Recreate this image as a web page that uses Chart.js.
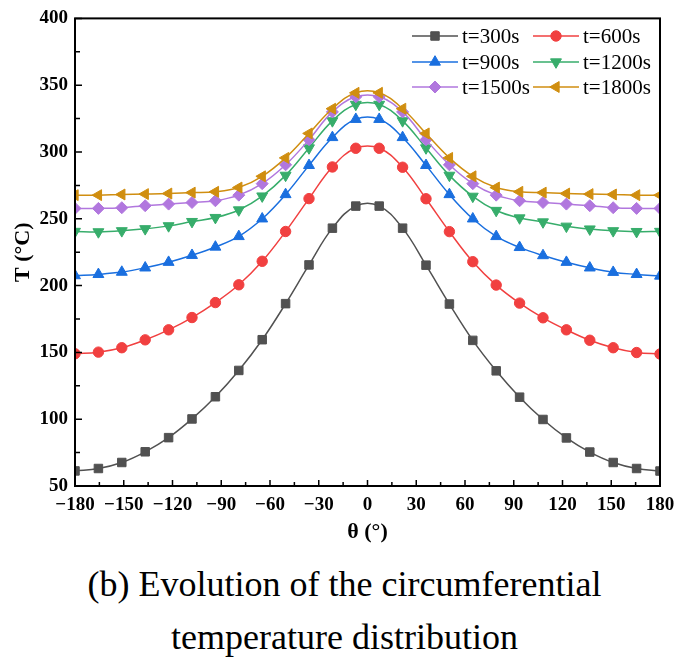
<!DOCTYPE html>
<html lang="en">
<head>
  <meta charset="UTF-8" />
  <title>Circumferential temperature distribution</title>
  <script src="https://cdn.jsdelivr.net/npm/chart.js"></script>
  <style>
    body { margin: 0; background: #fff; }
    .chart-box { position: relative; width: 689px; height: 550px; }
    .caption {
      width: 689px; margin-top: 8px;
      font-family: "Liberation Serif", "Times New Roman", serif;
      font-size: 36px; line-height: 53px; text-align: center; color: #000;
    }
  </style>
</head>
<body>
  <div class="chart-box"><canvas id="tempChart"></canvas></div>
  <div class="caption">(b) Evolution of the circumferential<br />temperature distribution</div>

  <script>
    // angle positions (deg)
    const theta = [-180, -165.6, -151.2, -136.8, -122.4, -108, -93.6, -79.2, -64.8, -50.4, -36, -21.6, -7.2,
                   7.2, 21.6, 36, 50.4, 64.8, 79.2, 93.6, 108, 122.4, 136.8, 151.2, 165.6, 180];

    // temperature (°C) per time step
    const t300  = [61.3, 63.1, 67.6, 75.6, 86.2, 100.2, 116.8, 136.5, 159.5, 186.5, 215.5, 243.0, 259.5,
                   259.5, 243.0, 215.3, 186.2, 159.0, 136.2, 116.5, 99.8, 86.0, 75.4, 67.6, 63.1, 61.2];
    const t600  = [149.0, 150.2, 153.5, 159.4, 166.9, 176.1, 187.3, 200.6, 218.2, 240.5, 265.1, 288.8, 302.8,
                   302.8, 288.6, 265.0, 240.4, 217.9, 200.4, 186.9, 175.9, 166.9, 159.1, 153.5, 149.9, 148.8];
    const t900  = [207.5, 208.4, 210.1, 213.3, 217.5, 222.7, 228.9, 236.8, 250.0, 268.2, 290.0, 310.9, 324.5,
                   324.5, 310.9, 290.0, 268.2, 250.0, 236.8, 228.6, 222.5, 217.5, 213.3, 210.0, 208.4, 207.2];
    const t1200 = [240.5, 240.2, 241.0, 242.5, 244.7, 247.9, 250.9, 256.6, 267.0, 282.5, 303.0, 323.3, 335.6,
                   335.6, 323.3, 303.0, 282.5, 266.8, 256.2, 250.6, 247.6, 244.4, 242.3, 241.0, 240.4, 240.5];
    const t1500 = [257.8, 257.8, 258.3, 259.8, 261.0, 262.2, 263.5, 267.7, 276.3, 290.4, 309.2, 330.0, 341.3,
                   341.3, 330.0, 309.2, 290.4, 276.3, 267.7, 263.5, 262.2, 261.0, 259.8, 258.3, 257.8, 257.8];
    const t1800 = [267.7, 267.7, 268.2, 268.5, 268.9, 269.6, 270.2, 273.4, 281.8, 295.6, 313.9, 332.4, 344.3,
                   344.3, 332.4, 313.9, 295.6, 281.8, 273.4, 270.2, 269.6, 268.9, 268.5, 268.2, 267.7, 267.7];

    const seriesNames = ['t=300s', 't=600s', 't=900s', 't=1200s', 't=1500s', 't=1800s'];
    const seriesData  = [t300, t600, t900, t1200, t1500, t1800];
    const colors      = ['#515151', '#F14040', '#1A6FDF', '#37AD6B', '#B177DE', '#D08E10'];
    const styles      = ['rect', 'circle', 'triangle', 'triangle', 'rectRot', 'triangle'];
    const rotations   = [0, 0, 0, 180, 0, 270];
    const radii       = [6, 5.2, 6.3, 6.3, 6, 6.3];

    const xTicks = [-180, -150, -120, -90, -60, -30, 0, 30, 60, 90, 120, 150, 180];
    const yTicks = [50, 100, 150, 200, 250, 300, 350, 400];

    const FONT = '"Liberation Serif", "Times New Roman", serif';
    Chart.defaults.font.family = FONT;
    Chart.defaults.color = '#000';

    const datasets = seriesData.map((vals, i) => ({
      label: seriesNames[i],
      data: vals.map((v, k) => ({ x: theta[k], y: v })),
      borderColor: colors[i],
      backgroundColor: colors[i],
      borderWidth: 1.5,
      tension: 0.4,
      pointStyle: styles[i],
      pointRotation: rotations[i],
      pointRadius: radii[i],
      pointBorderWidth: 1,
      order: 5 - i
    }));

    // frame, inward ticks and the legend box
    const framePlugin = {
      id: 'frame',
      afterDraw(chart) {
        const ctx = chart.ctx;
        const a = chart.chartArea;
        const xs = chart.scales.x, ys = chart.scales.y;
        ctx.save();
        ctx.strokeStyle = '#000';
        ctx.lineWidth = 2;
        ctx.strokeRect(a.left, a.top, a.right - a.left, a.bottom - a.top);

        ctx.lineWidth = 1.5;
        ctx.beginPath();
        for (let v = -180; v <= 180; v += 15) {
          const px = xs.getPixelForValue(v);
          const len = (v % 30 === 0) ? 6 : 4;
          ctx.moveTo(px, a.bottom);
          ctx.lineTo(px, a.bottom - len);
        }
        for (let v = 50; v <= 400; v += 25) {
          const py = ys.getPixelForValue(v);
          const len = (v % 50 === 0) ? 7 : 5;
          ctx.moveTo(a.left, py);
          ctx.lineTo(a.left + len, py);
        }
        ctx.stroke();

        // legend: 2 columns x 3 rows
        const colX = [412, 533];
        const rowY = [36, 62, 87];
        ctx.font = '21px ' + FONT;
        ctx.textBaseline = 'middle';
        ctx.textAlign = 'left';
        seriesNames.forEach((name, i) => {
          const x0 = colX[i % 2], y0 = rowY[Math.floor(i / 2)];
          ctx.strokeStyle = colors[i];
          ctx.fillStyle = colors[i];
          ctx.lineWidth = 1.5;
          ctx.beginPath();
          ctx.moveTo(x0, y0);
          ctx.lineTo(x0 + 46, y0);
          ctx.stroke();
          ctx.lineWidth = 1;
          Chart.helpers.drawPoint(ctx, {
            pointStyle: styles[i], rotation: rotations[i], radius: radii[i], borderWidth: 1
          }, x0 + 23, y0);
          ctx.fillStyle = '#000';
          ctx.fillText(name, x0 + 50, y0 + 1);
        });
        ctx.restore();
      }
    };

    new Chart(document.getElementById('tempChart').getContext('2d'), {
      type: 'line',
      data: { datasets: datasets },
      options: {
        responsive: true,
        maintainAspectRatio: false,
        animation: false,
        layout: { padding: { top: 15, right: 29, left: 0, bottom: 0 } },
        plugins: { legend: { display: false }, tooltip: { enabled: false } },
        scales: {
          x: {
            type: 'linear', min: -180, max: 180,
            afterFit(scale) { scale.height = 64; },
            afterBuildTicks(scale) { scale.ticks = xTicks.map(v => ({ value: v })); },
            grid: { display: false, drawTicks: false },
            border: { display: false },
            ticks: {
              padding: 8,
              font: { size: 19, weight: 'bold' },
              callback: v => String(v).replace('-', '\u2212')
            },
            title: { display: true, text: 'θ (°)', font: { size: 22, weight: 'bold' }, padding: { top: 0, bottom: 4 } }
          },
          y: {
            min: 50, max: 400,
            afterFit(scale) { scale.width = 75; },
            afterBuildTicks(scale) { scale.ticks = yTicks.map(v => ({ value: v })); },
            grid: { display: false, drawTicks: false },
            border: { display: false },
            ticks: { padding: 7, font: { size: 19, weight: 'bold' } },
            title: { display: true, text: 'T (°C)', font: { size: 22, weight: 'bold' }, padding: { top: 10, bottom: 0 } }
          }
        }
      },
      plugins: [framePlugin]
    });
  </script>
</body>
</html>
